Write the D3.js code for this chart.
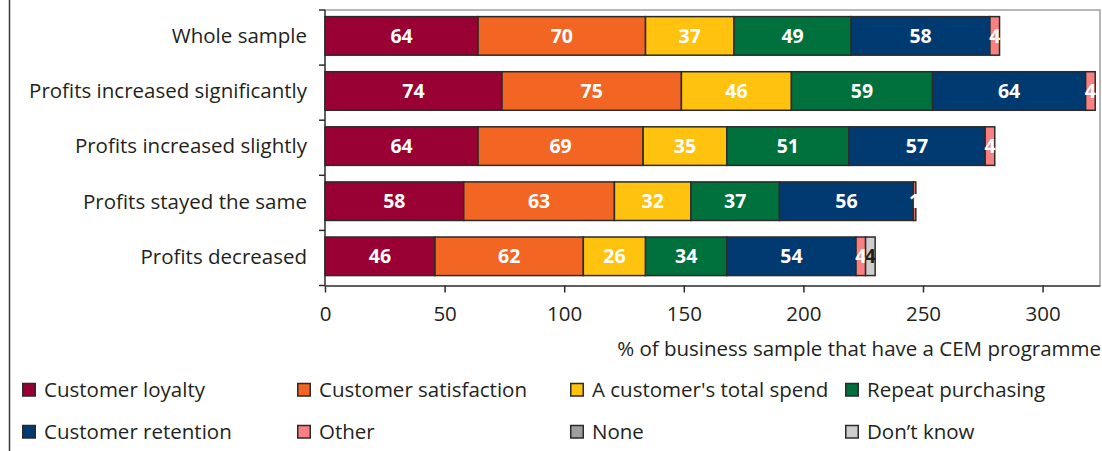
<!DOCTYPE html>
<html>
<head>
<meta charset="utf-8">
<script src="https://cdn.jsdelivr.net/npm/d3@7"></script>
<style>
  html, body { margin: 0; padding: 0; background: #fff; }
  svg { display: block; }
  text { font-family: "Open Sans", "Noto Sans", sans-serif; fill: #231f20; }
</style>
</head>
<body>
<svg id="chart" width="1102" height="451"></svg>
<script>
// Profit outcome groups (rows)
const categories = [
  "Whole sample",
  "Profits increased significantly",
  "Profits increased slightly",
  "Profits stayed the same",
  "Profits decreased"
];

// Share of each group (%) with a CEM programme aimed at each goal
const customerLoyalty      = [64, 74, 64, 58, 46];
const customerSatisfaction = [70, 75, 69, 63, 62];
const totalSpend           = [37, 46, 35, 32, 26];
const repeatPurchasing     = [49, 59, 51, 37, 34];
const customerRetention    = [58, 64, 57, 56, 54];
const other                = [4, 4, 4, 1, 4];
const none                 = [0, 0, 0, 0, 0];
const dontKnow             = [0, 0, 0, 0, 4];

const seriesNames = [
  "Customer loyalty", "Customer satisfaction", "A customer's total spend",
  "Repeat purchasing", "Customer retention", "Other", "None", "Don\u2019t know"
];
const seriesValues = [
  customerLoyalty, customerSatisfaction, totalSpend, repeatPurchasing,
  customerRetention, other, none, dontKnow
];
const seriesColors = [
  "#990033", "#f26522", "#ffc20e", "#00703c",
  "#003a70", "#f98080", "#9d9fa2", "#cdcdcd"
];
const labelColors = ["#fff", "#fff", "#fff", "#fff", "#fff", "#fff", "#fff", "#231f20"];

const xTicks = [0, 50, 100, 150, 200, 250, 300];
const xTitle = "% of business sample that have a CEM programme";

const textSize = "20.5px";

// Build rows for the stack layout
const rows = categories.map((c, i) => {
  const r = { category: c };
  seriesNames.forEach((s, j) => { r[s] = seriesValues[j][i]; });
  return r;
});
const stacked = d3.stack().keys(seriesNames)(rows);

const svg = d3.select("#chart");
const plot = { left: 325, right: 1100, top: 10, bottom: 285.5 };

const x = d3.scaleLinear().domain([0, 324]).range([plot.left, plot.right]);
const yBand = d3.scaleBand().domain(categories).range([plot.top, plot.bottom]).padding(0);
const y = d3.scaleBand().domain(categories).range([plot.top, plot.bottom])
  .paddingInner(0.3).paddingOuter(0.15).align(0.4);

// Outer frame line on the left
svg.append("line")
  .attr("x1", 9.5).attr("x2", 9.5).attr("y1", 0).attr("y2", 451)
  .attr("stroke", "#3a3a3a").attr("stroke-width", 1.5);

// Plot frame (top and right)
svg.append("path")
  .attr("d", `M${plot.left},${plot.top}H${plot.right}V${plot.bottom}`)
  .attr("fill", "none").attr("stroke", "#a0a0a0").attr("stroke-width", 1.5);

// Stacked bars
const layers = svg.append("g").selectAll("g")
  .data(stacked).join("g")
  .attr("fill", (d, i) => seriesColors[i]);

layers.selectAll("rect")
  .data(d => d.filter(p => p[1] - p[0] > 0).map(p => ({ p, cat: p.data.category })))
  .join("rect")
  .attr("x", d => x(d.p[0]))
  .attr("width", d => x(d.p[1]) - x(d.p[0]))
  .attr("y", d => y(d.cat))
  .attr("height", y.bandwidth())
  .attr("stroke", "#2b2b2b")
  .attr("stroke-width", 1.5);

// Value labels
stacked.forEach((layer, i) => {
  svg.append("g").selectAll("text")
    .data(layer.filter(p => p[1] - p[0] > 0))
    .join("text")
    .attr("x", p => (x(p[0]) + x(p[1])) / 2)
    .attr("y", p => y(p.data.category) + y.bandwidth() / 2)
    .attr("dy", "0.36em")
    .attr("text-anchor", "middle")
    .style("font-size", "19.5px")
    .style("font-weight", "700")
    .style("fill", labelColors[i])
    .text(p => p[1] - p[0]);
});

// Left axis: boundary ticks and category labels
const leftAxis = svg.append("g");
leftAxis.append("line")
  .attr("x1", plot.left).attr("x2", plot.left)
  .attr("y1", plot.top).attr("y2", plot.bottom)
  .attr("stroke", "#2b2b2b").attr("stroke-width", 1.5);
const bounds = categories.map(c => yBand(c)).concat([plot.bottom]);
leftAxis.selectAll("line.tick").data(bounds).join("line")
  .attr("class", "tick")
  .attr("x1", plot.left - 6).attr("x2", plot.left)
  .attr("y1", d => d).attr("y2", d => d)
  .attr("stroke", "#2b2b2b").attr("stroke-width", 1.5);
leftAxis.selectAll("text").data(categories).join("text")
  .attr("x", plot.left - 18)
  .attr("y", d => y(d) + y.bandwidth() / 2)
  .attr("dy", "0.36em")
  .attr("text-anchor", "end")
  .style("font-size", textSize)
  .text(d => d);

// Bottom axis
const xAxis = d3.axisBottom(x).tickValues(xTicks).tickSize(7).tickPadding(14).tickSizeOuter(0);
const gx = svg.append("g")
  .attr("transform", `translate(0,${plot.bottom})`)
  .call(xAxis);
gx.select(".domain").attr("stroke", "#2b2b2b").attr("stroke-width", 1.5);
gx.selectAll(".tick line").attr("stroke", "#2b2b2b").attr("stroke-width", 1.5);
gx.selectAll(".tick text")
  .style("font-family", "'Open Sans', 'Noto Sans', sans-serif")
  .style("font-size", textSize).style("fill", "#231f20");

svg.append("text")
  .attr("x", 1101).attr("y", 356)
  .attr("text-anchor", "end")
  .style("font-size", textSize)
  .text(xTitle);

// Legend: two rows of four entries
const legendCols = [22, 297, 570, 845];
const legendRows = [390, 432];
const legend = svg.append("g").selectAll("g")
  .data(seriesNames).join("g")
  .attr("transform", (d, i) => `translate(${legendCols[i % 4]},${legendRows[Math.floor(i / 4)]})`);
legend.append("rect")
  .attr("x", 0.75).attr("y", -6.5).attr("width", 12.5).attr("height", 12.5)
  .attr("fill", (d, i) => seriesColors[i])
  .attr("stroke", "#2b2b2b").attr("stroke-width", 1.5);
legend.append("text")
  .attr("x", 22).attr("y", 0).attr("dy", "0.36em")
  .style("font-size", textSize)
  .text(d => d);
</script>
</body>
</html>
